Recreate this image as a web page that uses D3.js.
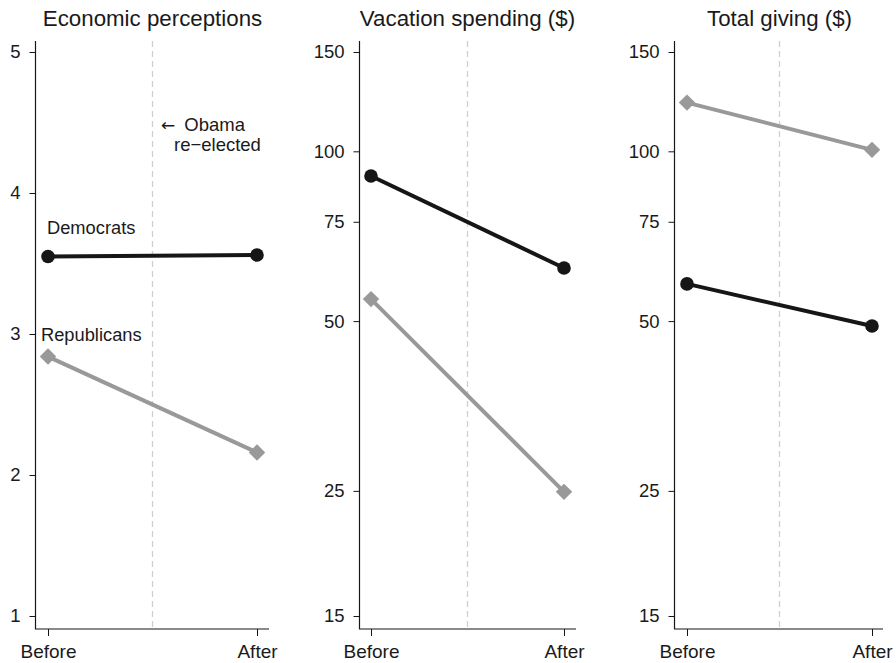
<!DOCTYPE html>
<html>
<head>
<meta charset="utf-8">
<script src="https://cdn.jsdelivr.net/npm/d3@7"></script>
<style>
  body { margin: 0; background: #fff; }
  svg text { font-family: "Liberation Sans", Arial, sans-serif; fill: #1a1a1a; }
</style>
</head>
<body>
<svg id="chart" width="896" height="663"></svg>
<script>
// data
var panel_titles = ["Economic perceptions", "Vacation spending ($)", "Total giving ($)"];
var periods = ["Before", "After"];
var democrat_values = [[3.55, 3.56], [90.4, 62.1], [58.2, 49.0]];
var republican_values = [[2.84, 2.16], [54.7, 24.9], [122, 100.6]];
var econ_ticks = [1, 2, 3, 4, 5];
var dollar_ticks = [15, 25, 50, 75, 100, 150];

// layout of each panel (pixels)
var panels = [
    {axis_x: 35.5, first_x: 48, last_x: 257, end_x: 269, log: false},
    {axis_x: 359.5, first_x: 371, last_x: 564, end_x: 576, log: true},
    {axis_x: 674.5, first_x: 687, last_x: 872, end_x: 883, log: true}
];
var y_top = 41, y_base = 629, y_hi = 52, y_lo = 616;

var black = "#161616", grey = "#999999";
var svg = d3.select("#chart");

var draw_panel = function(p, i) {
    var g = svg.append("g");

    var x = d3.scalePoint().domain(periods).range([p.first_x, p.last_x]);
    var y = p.log ?
        d3.scaleLog().domain([15, 150]).range([y_lo, y_hi]) :
        d3.scaleLinear().domain([1, 5]).range([y_lo, y_hi]);
    var mid_x = (p.first_x + p.last_x) / 2;

    // title
    g.append("text")
        .attr("x", mid_x)
        .attr("y", 26)
        .attr("text-anchor", "middle")
        .style("font-size", "22.3px")
        .text(panel_titles[i]);

    // event line
    g.append("line")
        .attr("x1", mid_x).attr("x2", mid_x)
        .attr("y1", y_top).attr("y2", y_base)
        .attr("stroke", "#cfcfcf")
        .attr("stroke-width", 1.3)
        .attr("stroke-dasharray", "6,4");

    // axes
    var left = d3.axisLeft(y)
        .tickValues(p.log ? dollar_ticks : econ_ticks)
        .tickFormat(d3.format("d"))
        .tickSize(6)
        .tickPadding(9);
    var ya = g.append("g").attr("transform", "translate(" + p.axis_x + ",0)").call(left);
    ya.select(".domain").remove();
    ya.selectAll("line").attr("stroke", black);
    ya.selectAll("text").style("font-size", "18.5px").attr("font-family", null);

    var bottom = d3.axisBottom(x).tickSize(7).tickPadding(9);
    var xa = g.append("g").attr("transform", "translate(0," + y_base + ")").call(bottom);
    xa.select(".domain").remove();
    xa.selectAll("line").attr("stroke", black);
    xa.selectAll("text").style("font-size", "19px").attr("font-family", null);

    g.append("path")
        .attr("d", "M" + p.axis_x + "," + y_top + "V" + y_base + "H" + p.end_x)
        .attr("fill", "none")
        .attr("stroke", black)
        .attr("stroke-width", 1.2);

    var series = [
        {values: republican_values[i], color: grey, symbol: "diamond"},
        {values: democrat_values[i], color: black, symbol: "circle"}
    ];

    var line = d3.line()
        .x(function(d, j) { return x(periods[j]); })
        .y(function(d) { return y(d); });

    series.forEach(function(s) {
        g.append("path")
            .datum(s.values)
            .attr("d", line)
            .attr("fill", "none")
            .attr("stroke", s.color)
            .attr("stroke-width", 4);

        g.selectAll(null)
            .data(s.values)
            .enter().append("path")
            .attr("d", s.symbol === "circle" ?
                d3.symbol().type(d3.symbolCircle).size(145)() :
                d3.symbol().type(d3.symbolSquare).size(135)())
            .attr("transform", function(d, j) {
                return "translate(" + x(periods[j]) + "," + y(d) + ")" +
                    (s.symbol === "circle" ? "" : " rotate(45)");
            })
            .attr("fill", s.color);
    });

    return g;
};

var groups = panels.map(draw_panel);

// labels in the first panel
var g0 = groups[0];
g0.append("text").attr("x", 47).attr("y", 234).style("font-size", "18.3px").text("Democrats");
g0.append("text").attr("x", 41).attr("y", 341).style("font-size", "18.3px").text("Republicans");
var obama = g0.append("text").attr("x", 161).attr("y", 131).style("font-size", "18.5px");
obama.append("tspan").style("font-family", "DejaVu Sans").style("font-size", "17px").text("\u2190");
obama.append("tspan").attr("dx", 9).text("Obama");
g0.append("text").attr("x", 174).attr("y", 151).style("font-size", "18.5px").text("re\u2212elected");
</script>
</body>
</html>
